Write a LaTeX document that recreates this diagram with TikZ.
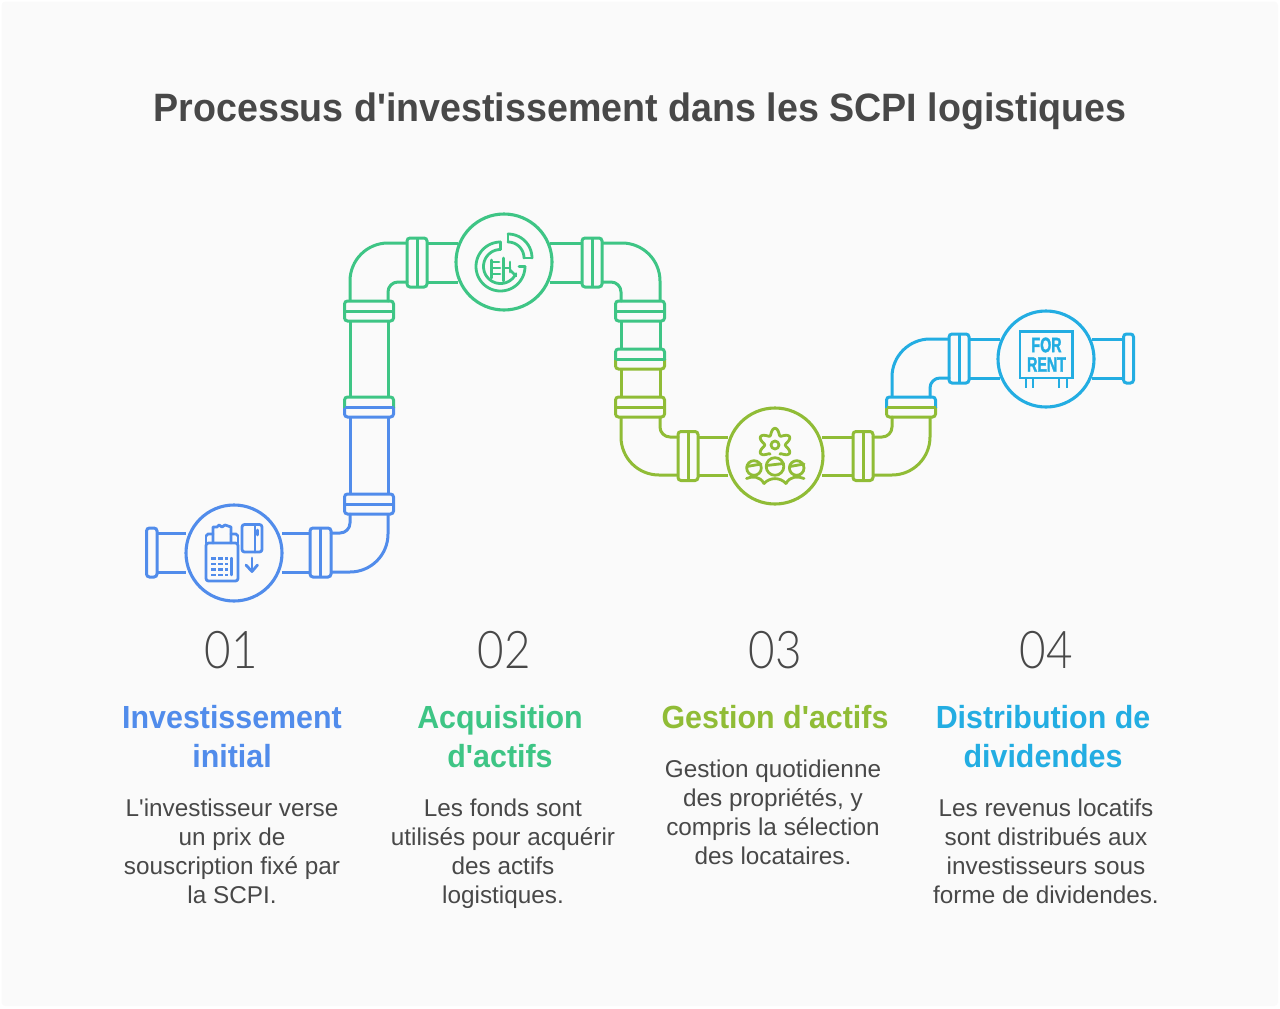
\documentclass[tikz,border=0pt]{standalone}
\usepackage{fontspec}
\setmainfont{Liberation Sans}[Ligatures=TeXOff]
\newfontfamily\lightf{Lato Light}[FakeStretch=.88]
\newfontfamily\headf{Liberation Sans}[FakeStretch=.95,Ligatures=TeXOff]
\newfontfamily\signf{Liberation Sans}[FakeStretch=.68,FakeBold=1.5]
\definecolor{cblue}{HTML}{518CEB}
\definecolor{cgreen}{HTML}{3EC585}
\definecolor{colive}{HTML}{90BC36}
\definecolor{ccyan}{HTML}{23ADE2}
\definecolor{ink}{HTML}{484848}
\definecolor{pagebg}{HTML}{FAFAFA}
\tikzset{
  run/.style={line width=3pt},
  pipe/.style={line width=3pt,line join=round,line cap=round,rounded corners=10pt},
  elbow/.style={line width=3pt,line join=round,rounded corners=38pt},
  flange/.style={line width=3pt,rounded corners=3pt},
  hub/.style={circle,draw,line width=3.1pt,fill=pagebg,minimum size=96pt,inner sep=0pt},
  icon/.style={line width=2.8pt,line cap=round,line join=round},
  num/.style={font=\lightf\fontsize{52}{52}\selectfont,text=ink,anchor=center,inner sep=0pt},
  head/.style={font=\headf\bfseries\fontsize{32}{39}\selectfont,align=center,anchor=center,inner sep=0pt},
  body/.style={font=\fontsize{24.3}{29}\selectfont,text=ink,align=center,anchor=center,inner sep=0pt},
}
\newcommand{\hflange}[6]{\draw[flange,#1] (#2,#3) rectangle (#4,#5); \draw[#1,run] (#2,#6) -- (#4,#6);}
\newcommand{\vflange}[6]{\draw[flange,#1] (#2,#3) rectangle (#4,#5); \draw[#1,run] (#6,#3) -- (#6,#5);}
\begin{document}
\begin{tikzpicture}[x=1pt,y=-1pt]
\useasboundingbox (0,0) rectangle (1280,1009);
\fill[white] (0,0) rectangle (1280,1009);
\fill[pagebg,rounded corners=4pt] (1.5,1.5) rectangle (1278,1006);

\node[font=\headf\bfseries\fontsize{39.6}{39.6}\selectfont,text=ink,inner sep=0pt] (title) at (640,111) {Processus d'investissement dans les SCPI logistiques};

%% ---- blue pipe
\draw[cblue,run] (157,533) -- (186,533) (157,572) -- (186,572);
\draw[flange,cblue] (146.5,528) rectangle (157,577);
\draw[cblue,run] (282,533) -- (310,533) (282,572) -- (310,572);
\vflange{cblue}{310}{528}{331}{577}{320.5}
\draw[pipe,cblue] (331,533) -- (350,533) -- (350,514);
\draw[elbow,cblue] (331,572) -- (388,572) -- (388,514);
\hflange{cblue}{344.5}{494}{393.5}{514}{504}
\draw[cblue,run] (350,494) -- (350,417) (388,494) -- (388,417);
\begin{scope}\clip (340,407) rectangle (398,421);
\draw[flange,cblue] (344.5,397) rectangle (393.5,417);\end{scope}
\begin{scope}\clip (340,393) rectangle (398,407);
\draw[flange,cgreen] (344.5,397) rectangle (393.5,417);\end{scope}
\draw[cblue,run] (344.5,407) -- (393.5,407);
\node[hub,draw=cblue] (n1) at (234,553) {};

%% ---- green pipe
\draw[cgreen,run] (350,397) -- (350,321) (388,397) -- (388,321);
\hflange{cgreen}{344.5}{301}{393.5}{321}{311}
\draw[elbow,cgreen] (350,301) -- (350,243) -- (407,243);
\draw[pipe,cgreen] (388,301) -- (388,282) -- (407,282);
\vflange{cgreen}{407}{238}{427}{287}{417}
\draw[cgreen,run] (427,243) -- (458,243) (427,282) -- (458,282);
\draw[cgreen,run] (550,243) -- (582,243) (550,282) -- (582,282);
\vflange{cgreen}{582}{238}{602}{287}{592}
\draw[elbow,cgreen] (602,243) -- (660,243) -- (660,301);
\draw[pipe,cgreen] (602,282) -- (621,282) -- (621,301);
\hflange{cgreen}{615.5}{301}{664.5}{321}{311}
\draw[cgreen,run] (621,321) -- (621,349) (660,321) -- (660,349);
\node[hub,draw=cgreen] (n2) at (504,262) {};
\begin{scope}\clip (611,359) rectangle (669,373);
\draw[flange,colive] (615.5,349) rectangle (664.5,369);\end{scope}
\begin{scope}\clip (611,345) rectangle (669,359);
\draw[flange,cgreen] (615.5,349) rectangle (664.5,369);\end{scope}
\draw[cgreen,run] (615.5,359) -- (664.5,359);

%% ---- olive pipe
\draw[colive,run] (621,369) -- (621,397) (660,369) -- (660,397);
\hflange{colive}{615.5}{397}{664.5}{417}{407}
\draw[pipe,colive] (660,417) -- (660,437) -- (678,437);
\draw[elbow,colive] (621,417) -- (621,475) -- (678,475);
\vflange{colive}{678}{431.5}{698}{480.5}{688}
\draw[colive,run] (698,437) -- (728,437) (698,475) -- (728,475);
\draw[colive,run] (822,437) -- (853,437) (822,475) -- (853,475);
\vflange{colive}{853}{431.5}{873}{480.5}{863}
\draw[pipe,colive] (873,437) -- (892,437) -- (892,417);
\draw[elbow,colive] (873,475) -- (930,475) -- (930,417);
\node[hub,draw=colive] (n3) at (775,456) {};
\begin{scope}\clip (882,407) rectangle (940,421);
\draw[flange,colive] (886.5,397) rectangle (935.5,417);\end{scope}
\begin{scope}\clip (882,393) rectangle (940,407);
\draw[flange,ccyan] (886.5,397) rectangle (935.5,417);\end{scope}
\draw[colive,run] (886.5,407) -- (935.5,407);

%% ---- cyan pipe
\draw[elbow,ccyan] (892,397) -- (892,339) -- (949,339);
\draw[pipe,ccyan] (930,397) -- (930,378) -- (949,378);
\vflange{ccyan}{949}{334}{969}{383}{959}
\draw[ccyan,run] (969,339) -- (1000,339) (969,378) -- (1000,378);
\draw[ccyan,run] (1092,339) -- (1123,339) (1092,378) -- (1123,378);
\draw[flange,ccyan] (1123.5,334) rectangle (1133.5,383);
\node[hub,draw=ccyan] (n4) at (1046,359) {};

%% ---- icon 1: terminal and card
\begin{scope}[cblue,icon]
\draw[rounded corners=2.5pt] (206,543) rectangle (238,581);
\draw (206,543) -- (206,536) (238,543) -- (238,536);
\draw (206,536) -- (208,534) -- (213,534) (238,536) -- (236,534) -- (231,534);
\draw (213,543) -- (213,527) -- (217,527) -- (219,525) -- (222,527) -- (225,525) -- (228,526) -- (231,527) -- (231,543);
\foreach \yy in {558.5,564,569.5,575}{
  \draw[line width=2.6pt,line cap=butt] (211,\yy) -- (216,\yy) (218,\yy) -- (223,\yy) (225,\yy) -- (228,\yy);}
\draw[line width=2.4pt] (231.5,558) -- (231.5,575);
\draw[rounded corners=2.5pt] (242,524.5) rectangle (262,552);
\draw (255,525) -- (255,552);
\draw (257.5,530) -- (257.5,535);
\draw (252,558) -- (252,571);
\draw (246,565) -- (252,571.5) -- (257.5,565);
\end{scope}

%% ---- icon 2: chart and buildings
\begin{scope}[cgreen,icon]
\draw plot[domain=90:360,samples=60] ({500.5+24.5*cos(\x)},{266.5-24.5*sin(\x)});
\draw plot[domain=90:335,samples=50] ({500.5+17*cos(\x)},{266.5-17*sin(\x)});
\draw (500.5,242) -- (500.5,249.5);
\draw (525,266.5) -- (519,266.5);
\draw plot[domain=0:90,samples=24] ({508+24*cos(\x)},{258-24*sin(\x)});
\draw plot[domain=0:90,samples=24] ({508+16*cos(\x)},{258-16*sin(\x)});
\draw (508,234) -- (508,242) (532,258) -- (524,258);
\draw (491.5,260) -- (491.5,278);
\draw (491.5,262) -- (499,262) (491.5,268) -- (500,268) (491.5,274) -- (500,274);
\draw (503.5,258) -- (503.5,281);
\draw (503.5,268) -- (510,268);
\draw (510,262) -- (510,272);
\draw (510,270) -- (516,276);
\end{scope}

%% ---- icon 3: gear and people
\begin{scope}[colive,icon]
\draw plot[smooth,domain=-62:242,samples=90] ({775+(13.5+3.2*cos(6*(\x-90)))*cos(\x)},{445-(13.5+3.2*cos(6*(\x-90)))*sin(\x)});
\draw (775,445) circle[radius=4];
\draw (775,466.5) circle[radius=8.8];
\draw (766.5,465.5) -- (783.5,463.5);
\draw (754,468) circle[radius=7.3];
\draw (747,466.5) -- (761,464);
\draw (796.7,468) circle[radius=7.3];
\draw (790,466.5) -- (804,464);
\draw (746.5,478.5) .. controls (752,476) and (760,476) .. (764,483.5);
\draw (764,483.5) .. controls (770,477) and (780,477) .. (786,483.5);
\draw (786,483.5) .. controls (790,476) and (798,476) .. (804,478.5);
\end{scope}

%% ---- icon 4: sign
\begin{scope}[ccyan,icon]
\draw[line cap=butt,line join=miter] (1020,331.5) rectangle (1072.5,378);
\draw[line cap=butt] (1026,378) -- (1026,388) (1033,378) -- (1033,388) (1059,378) -- (1059,388) (1067,378) -- (1067,388);
\end{scope}
\node[text=ccyan,inner sep=0pt,font=\signf\bfseries\fontsize{21}{21}\selectfont] (sign1) at (1046.5,345) {FOR};
\node[text=ccyan,inner sep=0pt,font=\signf\bfseries\fontsize{21}{21}\selectfont] (sign2) at (1046.5,364.5) {RENT};

%% ---- numbers
\node[num] (d1) at (231,650) {01};
\node[num] (d2) at (504,650) {02};
\node[num] (d3) at (775,650) {03};
\node[num] (d4) at (1046,650) {04};

%% ---- headings
\node[head,text=cblue] (h1) at (232,737) {Investissement\\initial};
\node[head,text=cgreen] (h2) at (500,737) {Acquisition\\d'actifs};
\node[head,text=colive] (h3) at (775,717) {Gestion d'actifs};
\node[head,text=ccyan] (h4) at (1043,737) {Distribution de\\dividendes};

%% ---- bodies
\node[body] (b1) at (232,851.5) {L'investisseur verse\\un prix de\\souscription fixé par\\la SCPI.};
\node[body] (b2) at (503,853.5) {Les fonds sont\\utilisés pour acquérir\\des actifs\\logistiques.};
\node[body] (b3) at (773,812.5) {Gestion quotidienne\\des propriétés, y\\compris la sélection\\des locataires.};
\node[body] (b4) at (1046,851.5) {Les revenus locatifs\\sont distribués aux\\investisseurs sous\\forme de dividendes.};
\end{tikzpicture}
\end{document}
